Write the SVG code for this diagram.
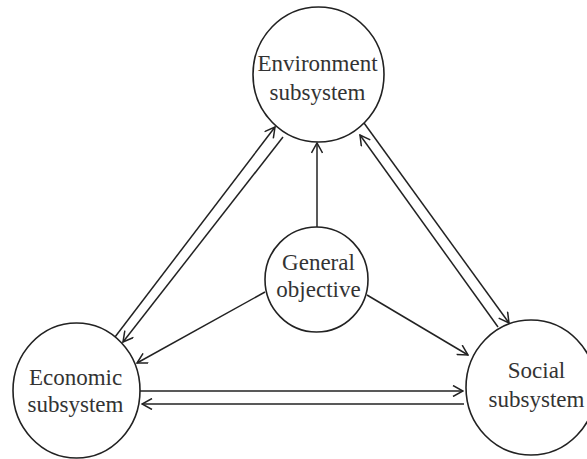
<svg xmlns="http://www.w3.org/2000/svg" width="587" height="459" viewBox="0 0 587 459">
  <style>
    .node { fill: #ffffff; stroke: #222222; stroke-width: 1.6; }
    .label { font-family: "Liberation Serif", "Times New Roman", serif; font-size: 23px; fill: #333333; text-anchor: middle; }
    .link { stroke: #222222; stroke-width: 1.5; fill: none; marker-end: url(#arrow); }
    .plain { stroke: #222222; stroke-width: 1.5; fill: none; }
  </style>
  <defs>
    <marker id="arrow" viewBox="-11 -6 12 12" markerWidth="12" markerHeight="12" refX="0" refY="0" orient="auto" markerUnits="userSpaceOnUse">
      <path d="M-10,-5.5 L0,0 L-10,5.5" fill="none" stroke="#222222" stroke-width="1.5" stroke-linejoin="miter"/>
    </marker>
  </defs>
  <rect width="587" height="459" fill="#ffffff"/>

  <!-- connectors -->
  <g id="connectors">
    <!-- general objective to each subsystem -->
    <line class="link" x1="317" y1="227" x2="317" y2="143"/>
    <line class="link" x1="265" y1="292" x2="137" y2="363"/>
    <line class="link" x1="367" y1="295" x2="468" y2="355"/>
    <!-- economic <-> environment -->
    <line class="link" x1="115" y1="337" x2="275" y2="127"/>
    <line class="link" x1="283" y1="137" x2="123" y2="342"/>
    <!-- environment <-> social -->
    <line class="link" x1="364" y1="123" x2="509" y2="323"/>
    <line class="link" x1="498" y1="327" x2="360" y2="135"/>
    <!-- economic <-> social -->
    <line class="link" x1="140" y1="391" x2="463" y2="391"/>
    <line class="link" x1="464" y1="404" x2="142" y2="404"/>
  </g>

  <g id="environment">
    <ellipse class="node" cx="318.5" cy="74.5" rx="65.5" ry="67.5"/>
    <text class="label" x="317.5" y="71">Environment</text>
    <text class="label" x="317.5" y="100">subsystem</text>
  </g>

  <g id="general">
    <ellipse class="node" cx="316.5" cy="279.5" rx="51.5" ry="52.5"/>
    <text class="label" x="318.5" y="270">General</text>
    <text class="label" x="318.5" y="297">objective</text>
  </g>

  <g id="economic">
    <ellipse class="node" cx="76.5" cy="390.5" rx="63.5" ry="67.5"/>
    <text class="label" x="75.5" y="385">Economic</text>
    <text class="label" x="75.5" y="412">subsystem</text>
  </g>

  <g id="social">
    <ellipse class="node" cx="531" cy="387.5" rx="65" ry="67.5"/>
    <text class="label" x="536.5" y="378">Social</text>
    <text class="label" x="536.5" y="407">subsystem</text>
  </g>
</svg>
